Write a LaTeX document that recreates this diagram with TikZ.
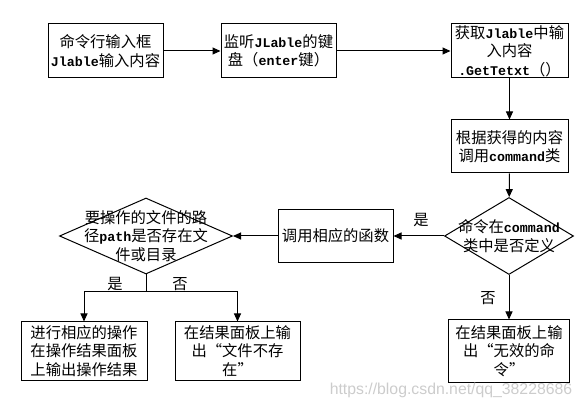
\documentclass[tikz,border=0pt]{standalone}
\usepackage{fontspec}
\setmainfont{Noto Sans CJK SC}
\newfontfamily\lat[Scale=0.87]{Liberation Mono}
\newfontfamily\wmfont{Liberation Sans}
\usetikzlibrary{arrows.meta,shapes.geometric}
\newcommand{\lt}[1]{{\lat\bfseries #1}}
\tikzset{
  txt/.style={align=center, inner sep=0pt, font=\fontsize{15.3}{18.5}\selectfont},
  box/.style={draw, line width=1pt, rectangle, inner sep=0pt, align=center,
              font=\fontsize{15.3}{18.5}\selectfont},
  dia/.style={draw, line width=1pt, diamond, inner sep=0pt},
  arr/.style={line width=1pt, -{Triangle[length=8pt,width=7pt]}},
  conn/.style={line width=1pt},
  lbl/.style={inner sep=0pt, font=\fontsize{15.3}{18.5}\selectfont}
}
\begin{document}
\begin{tikzpicture}[x=1pt,y=-1pt]
\useasboundingbox (0,0) rectangle (582,409);
% boxes
\node[box, minimum width=115pt, minimum height=54pt] (b1) at (105.5,51)
  {命令行输入框\\\lt{Jlable}输入内容};
\node[box, minimum width=115pt, minimum height=54pt] (b2) at (278.5,51)
  {监听\lt{JLable}的键\\盘（\lt{enter}键）};
\node[box, minimum width=117pt, minimum height=54pt] (b3) at (509.5,51)
  {获取\lt{Jlable}中输\\入内容\\\lt{.GetTetxt}（）};
\node[box, minimum width=117pt, minimum height=53pt] (b4) at (509.5,146.5)
  {根据获得的内容\\调用\lt{command}类};
\node[dia, minimum width=129pt, minimum height=77pt] (d1) at (509,236) {};
\node[txt] (d1t) at (509,236) {命令在\lt{command}\\类中是否定义};
\node[box, minimum width=115pt, minimum height=53pt] (b5) at (335.5,236)
  {调用相应的函数};
\node[dia, minimum width=173pt, minimum height=76pt] (d2) at (146,236) {};
\node[txt] (d2t) at (146,236) {要操作的文件的路\\径\lt{path}是否存在文\\件或目录};
\node[box, minimum width=126pt, minimum height=58pt] (b6) at (84,351)
  {进行相应的操作\\在操作结果面板\\上输出操作结果};
\node[box, minimum width=125pt, minimum height=58pt] (b7) at (237.5,351)
  {在结果面板上输\\出“文件不存\\在”};
\node[box, minimum width=121pt, minimum height=62pt] (b8) at (509,351)
  {在结果面板上输\\出“无效的命\\令”};
% labels
\node[lbl] (l1) at (421,220) {是};
\node[lbl] (l2) at (488,298) {否};
\node[lbl] (l3) at (115,284) {是};
\node[lbl] (l4) at (180,284) {否};
% watermark
\node[inner sep=0pt, text=black!20, font=\wmfont\fontsize{15.8}{18}\selectfont] (wm) at (451,390)
  {https://blog.csdn.net/qq\_38228686};
% connectors
\draw[arr] (b1) -- (b2);
\draw[arr] (b2) -- (b3);
\draw[arr] (b3) -- (b4);
\draw[arr] (b4) -- (d1);
\draw[arr] (d1) -- (b5);
\draw[arr] (b5) -- (d2);
\coordinate (j) at (146,292);
\draw[conn] (d2.south) -- (j);
\draw[arr] (j) -| (b6);
\draw[arr] (j) -| (b7);
\draw[arr] (d1) -- (b8);
\end{tikzpicture}
\end{document}
